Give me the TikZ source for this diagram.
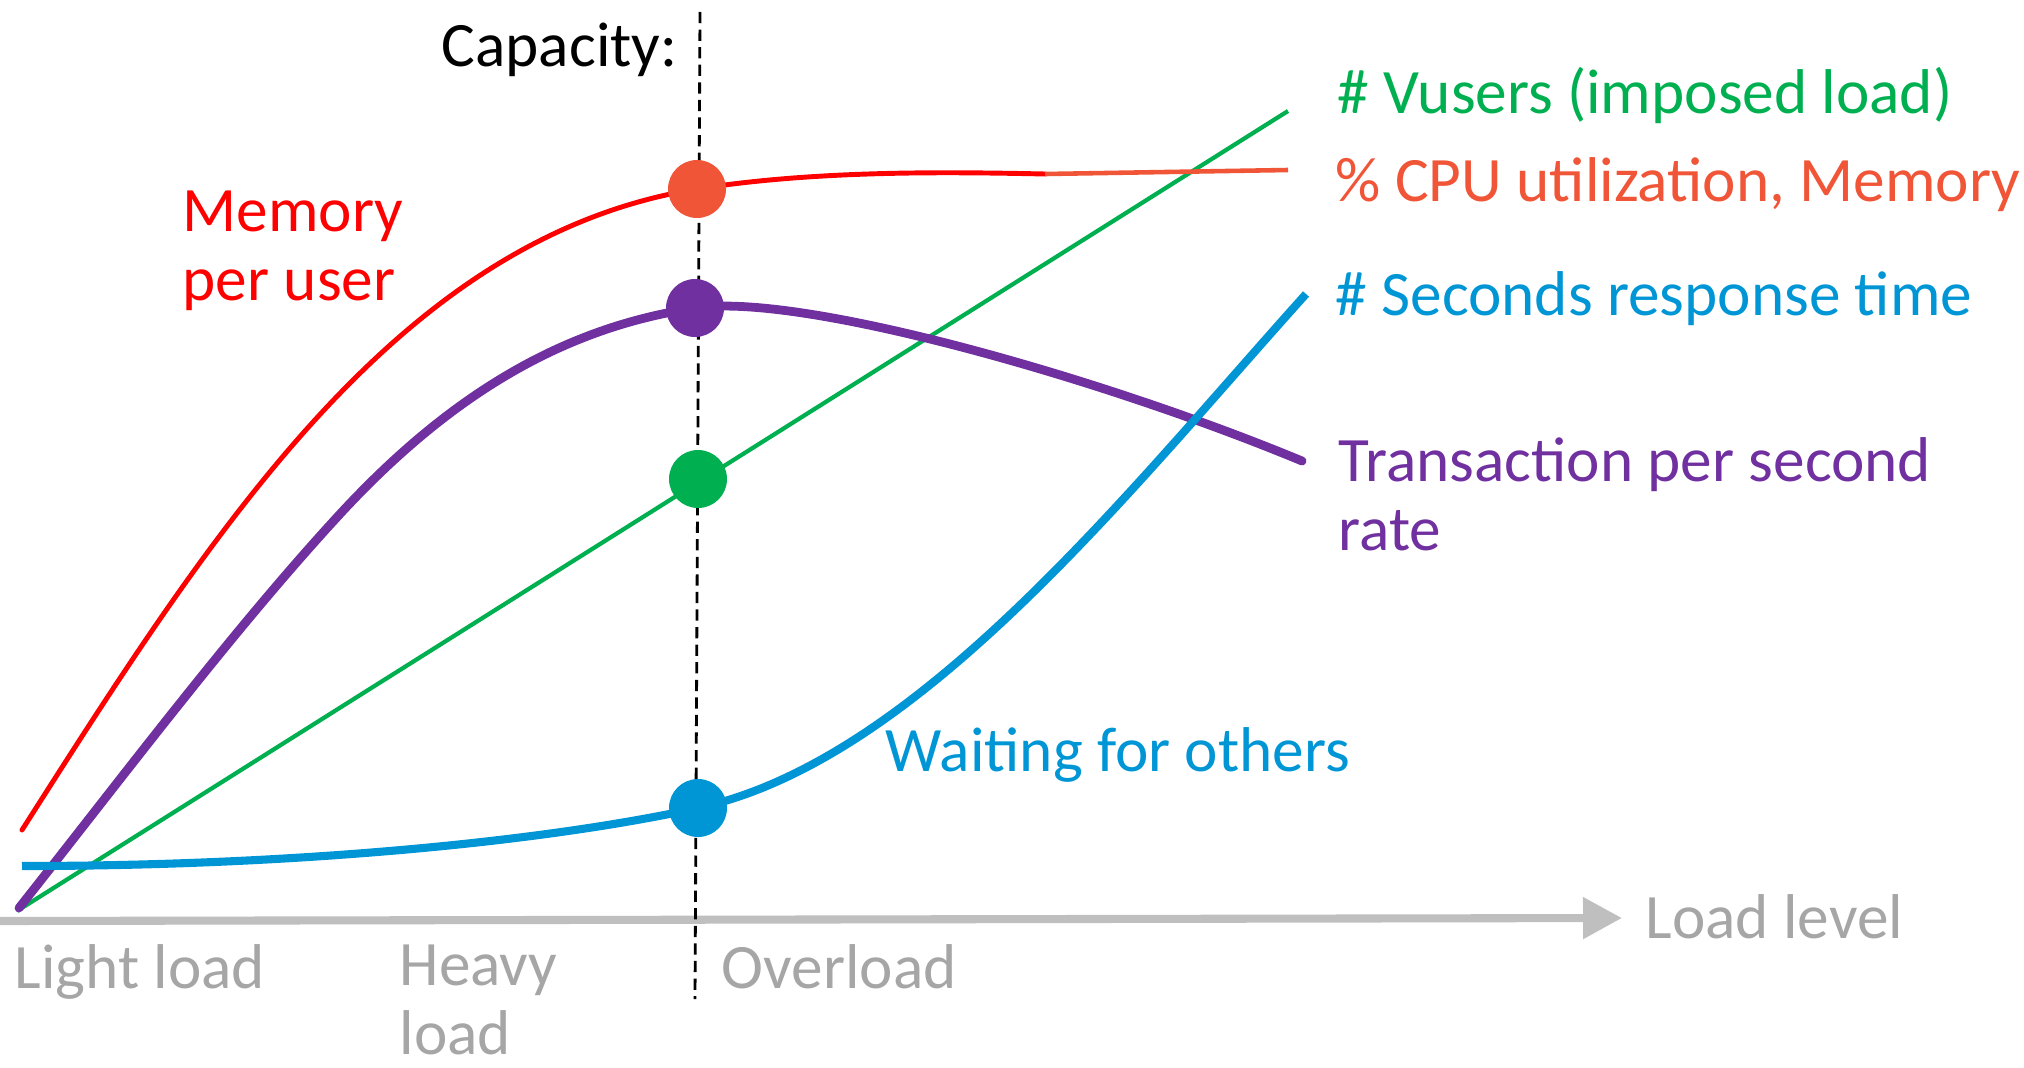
\documentclass[tikz,border=0pt]{standalone}
\usepackage{fontspec}
\setmainfont{Carlito}
\usepackage{tikz}
\usetikzlibrary{arrows.meta}
\usepackage{xcolor}

\definecolor{memred}{HTML}{FF0000}
\definecolor{cpuorange}{HTML}{F05537}
\definecolor{tpspurple}{HTML}{7030A0}
\definecolor{vgreen}{HTML}{00B050}
\definecolor{respblue}{HTML}{0096D6}
\definecolor{axisgray}{HTML}{BFBFBF}
\definecolor{textgray}{HTML}{A6A6A6}

\begin{document}
\begin{tikzpicture}[capdot/.style = {circle, fill, inner sep=0pt, minimum size=5.8mm},
  lbl/.style = {inner sep=0pt, anchor=base west, align=left, font=\fontsize{18}{19.6}\selectfont},
  curve/.style = {line cap=round, line join=round}]
\useasboundingbox (0,0) rectangle (20.24,10.67);

\coordinate (a0) at (0,1.46);
\coordinate (a1) at (16.22,1.49);
\coordinate (c0) at (7.00,10.55);
\coordinate (c1) at (6.95,0.68);
\draw[axisgray, line width=2.3pt, -{Triangle[length=3.9mm, width=4mm]}] (a0) -- (a1);
\draw[line width=0.8pt, dash pattern=on 3.2pt off 1.8pt] (c0) -- (c1);

% curves
\coordinate (v0) at (0.17,1.56);
\coordinate (v1) at (12.88,9.56);
\draw[vgreen, line width=1.2pt] (v0) -- (v1);

\coordinate (m0) at (0.22,2.37);
\coordinate (m1) at (10.45,8.93);
\coordinate (m2) at (12.88,8.97);
\draw[memred, curve, line width=1.4pt] (m0) .. controls (2.15,5.40) and (4.0,8.3) .. (6.97,8.78)
  .. controls (8.17,8.97) and (9.5,8.95) .. (m1);
\draw[cpuorange, line width=1.3pt] (m1) -- (m2);

\coordinate (t0) at (0.19,1.59);
\coordinate (t1) at (13.02,6.06);
\draw[tpspurple, curve, line width=2.5pt] (t0) .. controls (1.25,2.93) and (2.33,4.37) .. (3.40,5.53)
  .. controls (4.6,6.83) and (5.75,7.41) .. (6.95,7.59)
  .. controls (8.0,7.75) and (11.02,6.89) .. (t1);

\coordinate (s0) at (0.22,2.01);
\coordinate (s1) at (13.06,7.73);
\draw[respblue, line width=2.3pt] (s0) .. controls (3.0,2.01) and (5.48,2.26) .. (6.98,2.59)
  .. controls (9.18,3.07) and (11.26,5.73) .. (s1);

% capacity points
\node[capdot, cpuorange] (cpu) at (6.97,8.78) {};
\node[capdot, tpspurple] (tps) at (6.95,7.59) {};
\node[capdot, vgreen] (vusers) at (6.98,5.88) {};
\node[capdot, respblue] (resp) at (6.98,2.59) {};

% labels
\node[lbl, anchor=base east] (cap) at (6.78,10.01) {Capacity:};
\node[lbl, memred] (mem) at (1.82,7.67) {Memory\\per user};
\node[lbl, vgreen] (vlbl) at (13.37,9.54) {\# Vusers (imposed load)};
\node[lbl, cpuorange] (cpulbl) at (13.35,8.66) {\% CPU utilization, Memory};
\node[lbl, respblue] (resplbl) at (13.35,7.52) {\# Seconds response time};
\node[lbl, tpspurple] (tpslbl) at (13.38,5.17) {Transaction per second\\rate};
\node[lbl, respblue] (wait) at (8.85,2.96) {Waiting for others};
\node[lbl, textgray] (level) at (16.45,1.29) {Load level};
\node[lbl, textgray] (light) at (0.14,0.79) {Light load};
\node[lbl, textgray] (heavy) at (3.99,0.13) {Heavy\\load};
\node[lbl, textgray] (over) at (7.21,0.79) {Overload};
\end{tikzpicture}
\end{document}
